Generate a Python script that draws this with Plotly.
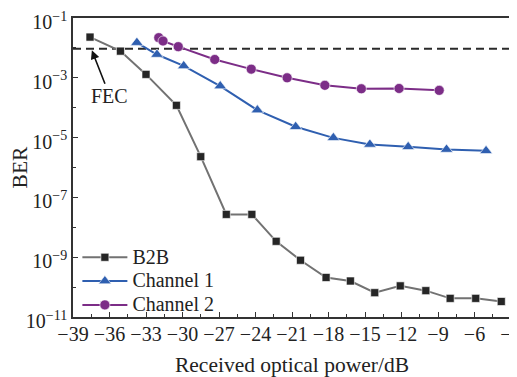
import numpy as np
import plotly.graph_objects as go

# ---- data ----
b2b_x = [-37.6, -35.1, -33.0, -30.5, -28.5, -26.4, -24.3, -22.3, -20.3, -18.2,
         -16.2, -14.2, -12.1, -10.0, -8.0, -5.9, -3.8]
b2b_y = [2.3e-2, 7.8e-3, 1.3e-3, 1.2e-4, 2.3e-6, 2.7e-8, 2.7e-8, 3.4e-9, 7.9e-10,
         2.1e-10, 1.6e-10, 6.5e-11, 1.1e-10, 7.6e-11, 4.2e-11, 4.2e-11, 3.3e-11]

ch1_x = [-33.75, -32.1, -29.9, -26.9, -23.85, -20.7, -17.6, -14.6, -11.45, -8.3, -5.05]
ch1_y = [1.5e-2, 6.0e-3, 2.5e-3, 5.3e-4, 8.3e-5, 2.3e-5, 9.8e-6, 5.9e-6, 4.9e-6,
         4.0e-6, 3.6e-6]

ch2_x = [-31.95, -31.6, -30.35, -27.35, -24.35, -21.4, -18.3, -15.3, -12.2, -8.9]
ch2_y = [2.2e-2, 1.7e-2, 1.1e-2, 4.1e-3, 1.95e-3, 1.0e-3, 5.6e-4, 4.3e-4, 4.4e-4, 3.8e-4]

series_names = ["B2B", "Channel 1", "Channel 2"]

fec_level = 9.3e-3
fec_x = [-39, -3]

x_ticks = list(range(-39, -2, 3))
y_tick_exps = [-1, -3, -5, -7, -9, -11]
y_minor_exps = [-2, -4, -6, -8, -10]

FONT = "Liberation Serif"


def legend_name(s):
    return "<span style='font-size:20px'>%s</span>" % s


fig = go.Figure()

fig.add_trace(go.Scatter(
    x=fec_x, y=[fec_level, fec_level], mode="lines",
    line=dict(color="#2a2a2a", width=2, dash="8px,5px"),
    showlegend=False, hoverinfo="skip"))

fig.add_trace(go.Scatter(
    x=b2b_x, y=b2b_y, mode="lines+markers", name=legend_name(series_names[0]),
    line=dict(color="#727272", width=2),
    marker=dict(symbol="square", size=8, color="#262626",
                line=dict(color="white", width=0.6))))

fig.add_trace(go.Scatter(
    x=ch1_x, y=ch1_y, mode="lines+markers", name=legend_name(series_names[1]),
    line=dict(color="#2f5fb0", width=2),
    marker=dict(symbol="triangle-up", size=11, color="#2f5fb0",
                line=dict(color="white", width=0.6))))

fig.add_trace(go.Scatter(
    x=ch2_x, y=ch2_y, mode="lines+markers", name=legend_name(series_names[2]),
    line=dict(color="#7c2d87", width=2),
    marker=dict(symbol="circle", size=10, color="#7c2d87",
                line=dict(color="white", width=0.6))))

fig.add_annotation(
    x=-37.45, y=np.log10(8.3e-3), xref="x", yref="y",
    text="FEC", showarrow=True, arrowhead=2, arrowsize=1.1, arrowwidth=1.6,
    arrowcolor="#111111", ax=18, ay=46,
    font=dict(family=FONT, size=20, color="#222222"))

# the page body adds an 8px margin, so the figure is 8px smaller and shifted
fig.update_layout(
    width=509, height=369,
    margin=dict(l=65, r=6, t=10, b=60),
    paper_bgcolor="white", plot_bgcolor="white",
    font=dict(family=FONT, size=20, color="#222222"),
    showlegend=True,
    legend=dict(x=0.01, y=-0.018, xanchor="left", yanchor="bottom",
                bgcolor="rgba(0,0,0,0)", font=dict(family=FONT, size=16),
                itemwidth=45, tracegroupgap=0),
)

fig.update_xaxes(
    range=[-39, -3], tickvals=x_ticks, automargin=False,
    ticklabeloverflow="allow", ticklabelstandoff=-2,
    tickfont=dict(family=FONT, size=20),
    ticks="inside", ticklen=5, tickwidth=1.2, tickcolor="#333",
    minor=dict(ticks="inside", ticklen=3, dtick=1.5, tick0=-39, tickcolor="#333"),
    showline=True, linecolor="#333", linewidth=1.5, mirror=True,
    showgrid=False, zeroline=False,
    title=dict(text="Received optical power/dB", font=dict(family=FONT, size=21.5), standoff=16),
)

fig.update_yaxes(
    type="log", range=[-11, -1], automargin=False,
    ticklabeloverflow="allow", ticklabelshift=4,
    tickvals=[10.0 ** e for e in y_tick_exps],
    ticktext=["10<sup>\u2212%d</sup>" % (-e) for e in y_tick_exps],
    tickfont=dict(family=FONT, size=20),
    ticks="inside", ticklen=5, tickwidth=1.2, tickcolor="#333",
    minor=dict(ticks="inside", ticklen=3, tickvals=[10.0 ** e for e in y_minor_exps],
               tickcolor="#333"),
    showline=True, linecolor="#333", linewidth=1.5, mirror=True,
    showgrid=False, zeroline=False,
    title=dict(text="BER", font=dict(family=FONT, size=21.5), standoff=10),
)

fig.write_html("out.html")
